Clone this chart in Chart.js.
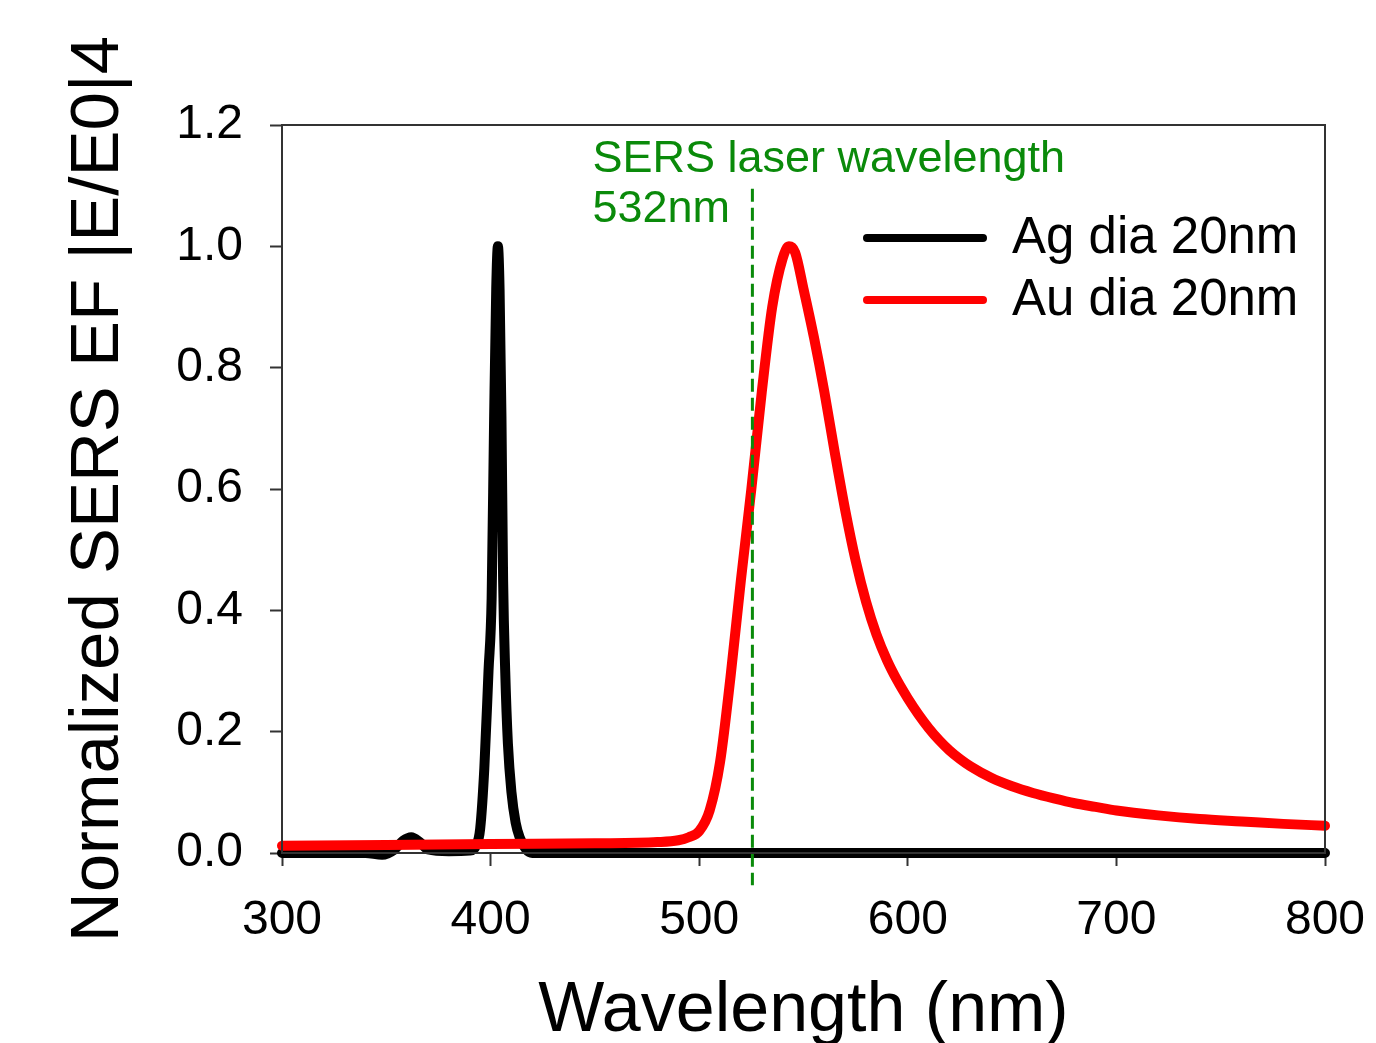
<!DOCTYPE html>
<html lang="en">
<head>
    <meta charset="UTF-8">
    <title>Normalized SERS EF</title>
    <script src="https://cdn.jsdelivr.net/npm/chart.js"></script>
    <style>
        * {
            margin: 0;
            padding: 0;
            box-sizing: border-box;
        }

        body {
            background: white;
        }

        .chart-box {
            width: 1376px;
            height: 1043px;
            position: relative;
        }
    </style>
</head>
<body>
    <div class="chart-box">
        <canvas id="sers-chart"></canvas>
    </div>

    <script>
        // Ag dia 20nm (black)
        const agWavelength = [300, 340, 348, 354, 358, 362, 366, 370, 380, 390, 393, 395, 397, 399, 400.5, 401.7, 402.7, 403.5, 404.3, 405.2, 406, 407, 408.3, 410, 412, 414, 417, 420, 450, 500, 600, 700, 800];
        const agValues     = [0.0, 0.0, -0.003, 0.006, 0.02, 0.026, 0.018, 0.006, 0.003, 0.004, 0.012, 0.04, 0.14, 0.3, 0.42, 0.72, 0.93, 1.0, 0.93, 0.72, 0.45, 0.3, 0.18, 0.1, 0.05, 0.025, 0.006, 0.0, 0.0, 0.0, 0.0, 0.0, 0.0];

        // Au dia 20nm (red)
        const auWavelength = [300, 350, 400, 450, 480, 490, 495, 500, 505, 510, 515, 520, 525, 530, 535, 540, 543, 546, 550, 555, 560, 565, 570, 575, 580, 585, 590, 595, 600, 605, 610, 615, 620, 625, 630, 640, 650, 660, 670, 680, 690, 700, 720, 740, 760, 780, 800];
        const auValues     = [0.012, 0.013, 0.015, 0.016, 0.018, 0.021, 0.026, 0.036, 0.07, 0.15, 0.29, 0.45, 0.60, 0.76, 0.90, 0.98, 1.0, 0.99, 0.93, 0.85, 0.76, 0.66, 0.565, 0.482, 0.414, 0.36, 0.318, 0.284, 0.255, 0.229, 0.206, 0.186, 0.169, 0.155, 0.143, 0.124, 0.11, 0.099, 0.09, 0.082, 0.076, 0.07, 0.062, 0.056, 0.052, 0.048, 0.045];

        // laser marker (dashed line as drawn in the figure)
        const laserWavelength = 525.5;
        const laserSpan = [1.095, -0.053];

        const xTicks = [300, 400, 500, 600, 700, 800];
        const yTicks = [0.0, 0.2, 0.4, 0.6, 0.8, 1.0, 1.2];

        const legendItems = [
            { label: 'Ag dia 20nm', color: '#000000' },
            { label: 'Au dia 20nm', color: '#ff0000' }
        ];

        const fontFamily = "'Liberation Sans', Arial, Helvetica, sans-serif";
        const green = '#0a8a0a';

        function toPoints(xs, ys) {
            return xs.map((x, i) => ({ x: x, y: ys[i] }));
        }

        // frame, legend and annotation text
        const decorPlugin = {
            id: 'decor',
            afterDatasetsDraw(chart) {
                const ctx = chart.ctx;
                const a = chart.chartArea;
                const xs = chart.scales.x;
                ctx.save();
                ctx.strokeStyle = '#333';
                ctx.lineWidth = 2;
                ctx.strokeRect(a.left, a.top, a.right - a.left, a.bottom - a.top);

                // legend
                ctx.lineCap = 'round';
                ctx.lineWidth = 8;
                ctx.font = '51px ' + fontFamily;
                ctx.textBaseline = 'middle';
                ctx.textAlign = 'left';
                legendItems.forEach((item, i) => {
                    const y = a.top + 113 + i * 62;
                    ctx.strokeStyle = item.color;
                    ctx.beginPath();
                    ctx.moveTo(a.right - 458, y);
                    ctx.lineTo(a.right - 342, y);
                    ctx.stroke();
                    ctx.fillStyle = '#000';
                    ctx.fillText(item.label, a.right - 313, y + 1);
                });

                // laser annotation
                const lx = xs.getPixelForValue(laserWavelength);
                ctx.fillStyle = green;
                ctx.font = '45px ' + fontFamily;
                ctx.textBaseline = 'alphabetic';
                ctx.fillText('SERS laser wavelength', lx - 160, a.top + 47);
                ctx.fillText('532nm', lx - 160, a.top + 97);
                ctx.restore();
            }
        };

        const ctx = document.getElementById('sers-chart').getContext('2d');
        new Chart(ctx, {
            type: 'line',
            data: {
                datasets: [
                    {
                        label: 'laser',
                        data: toPoints([laserWavelength, laserWavelength], laserSpan),
                        borderColor: green,
                        borderWidth: 3,
                        borderDash: [13, 6],
                        pointRadius: 0,
                        clip: false,
                        order: 0
                    },
                    {
                        label: legendItems[1].label,
                        data: toPoints(auWavelength, auValues),
                        borderColor: '#ff0000',
                        borderWidth: 10,
                        borderCapStyle: 'round',
                        borderJoinStyle: 'round',
                        cubicInterpolationMode: 'monotone',
                        pointRadius: 0,
                        clip: 10,
                        order: 1
                    },
                    {
                        label: legendItems[0].label,
                        data: toPoints(agWavelength, agValues),
                        borderColor: '#000000',
                        borderWidth: 10,
                        borderCapStyle: 'round',
                        borderJoinStyle: 'round',
                        cubicInterpolationMode: 'monotone',
                        pointRadius: 0,
                        clip: 10,
                        order: 2
                    }
                ]
            },
            options: {
                responsive: true,
                maintainAspectRatio: false,
                animation: false,
                layout: {
                    padding: { top: 125, right: 51, left: 0, bottom: 0 }
                },
                plugins: {
                    legend: { display: false },
                    tooltip: { enabled: false }
                },
                scales: {
                    x: {
                        type: 'linear',
                        min: xTicks[0],
                        max: xTicks[xTicks.length - 1],
                        afterFit(scale) {
                            scale.height = 190;
                            scale.paddingLeft = 0;
                            scale.paddingRight = 0;
                        },
                        afterBuildTicks(scale) { scale.ticks = xTicks.map(v => ({ value: v })); },
                        border: { display: true, color: '#333', width: 2 },
                        grid: { drawOnChartArea: false, drawTicks: true, tickLength: 13, tickWidth: 2, tickColor: '#333' },
                        ticks: {
                            color: '#000',
                            padding: 26,
                            maxRotation: 0,
                            font: { size: 48, family: fontFamily }
                        },
                        title: {
                            display: true,
                            text: 'Wavelength (nm)',
                            color: '#000',
                            font: { size: 70, family: fontFamily, lineHeight: 1 },
                            padding: { top: 0, bottom: -4 }
                        }
                    },
                    y: {
                        min: yTicks[0],
                        max: yTicks[yTicks.length - 1],
                        afterFit(scale) { scale.width = 282; },
                        afterBuildTicks(scale) { scale.ticks = yTicks.map(v => ({ value: v })); },
                        border: { display: true, color: '#333', width: 2 },
                        grid: { drawOnChartArea: false, drawTicks: true, tickLength: 12, tickWidth: 2, tickColor: '#333' },
                        ticks: {
                            color: '#000',
                            padding: 27,
                            font: { size: 48, family: fontFamily },
                            callback: v => Number(v).toFixed(1)
                        },
                        title: {
                            display: true,
                            text: 'Normalized SERS EF |E/E0|4',
                            color: '#000',
                            font: { size: 69, family: fontFamily, lineHeight: 1 },
                            padding: { top: 64, bottom: 0 }
                        }
                    }
                }
            },
            plugins: [decorPlugin]
        });
    </script>
</body>
</html>
